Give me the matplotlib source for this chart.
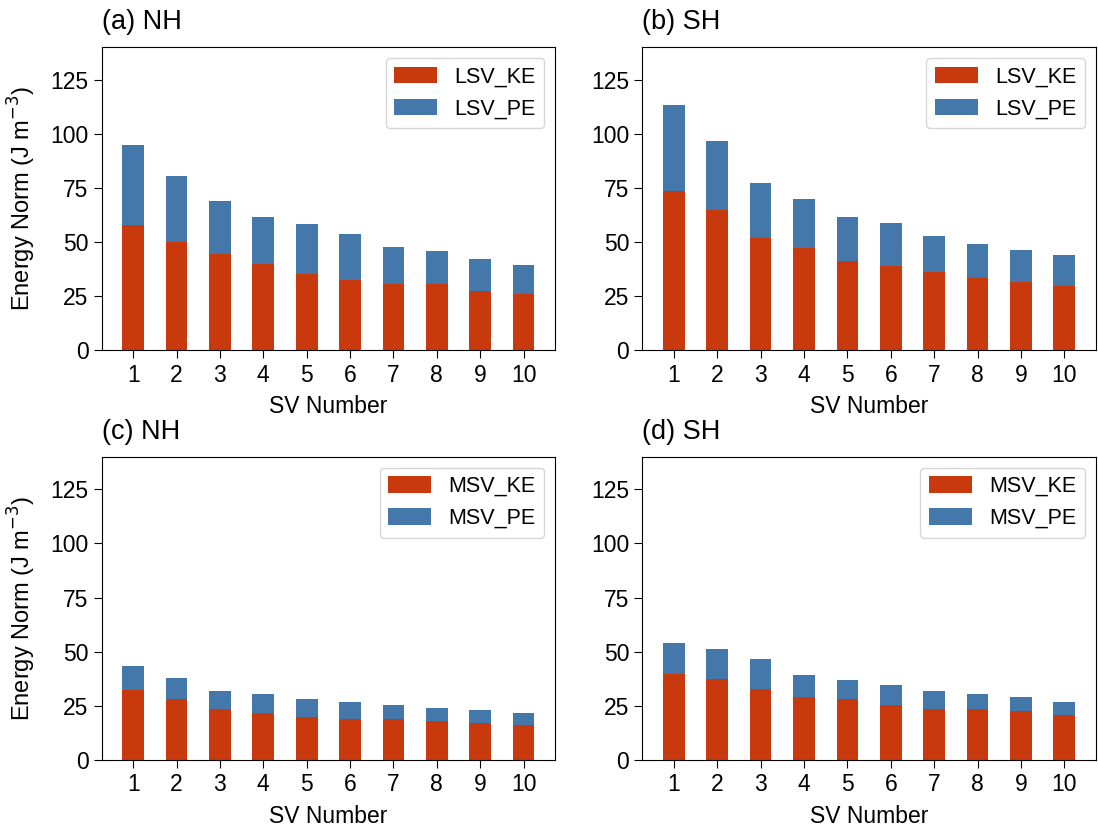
import matplotlib
matplotlib.use("Agg")
import matplotlib.pyplot as plt
import numpy as np

plt.rcParams['font.family'] = ['Liberation Sans', 'DejaVu Sans']

KE_COLOR = '#C83A0D'
PE_COLOR = '#4477AA'

sv_numbers = list(range(1, 11))

# Total energy (KE + PE) and kinetic part for each singular vector
lsv_nh_total = [94.6, 80.7, 69.1, 61.7, 58.5, 53.9, 47.8, 46.0, 42.3, 39.5]
lsv_nh_ke = [58.0, 50.2, 44.3, 40.0, 35.3, 32.6, 30.7, 30.7, 27.6, 25.8]

lsv_sh_total = [113.3, 96.6, 77.1, 69.7, 61.8, 58.6, 53.0, 49.3, 46.5, 44.2]
lsv_sh_ke = [73.4, 64.8, 52.1, 47.1, 41.4, 39.1, 36.0, 33.5, 31.7, 29.8]

msv_nh_total = [43.3, 37.7, 31.7, 30.3, 28.0, 26.6, 25.6, 24.2, 23.3, 21.9]
msv_nh_ke = [32.1, 28.1, 23.4, 21.6, 20.0, 18.8, 18.8, 17.9, 17.2, 16.0]

msv_sh_total = [54.0, 51.2, 46.6, 39.1, 36.8, 34.5, 31.7, 30.7, 29.3, 27.0]
msv_sh_ke = [39.6, 37.4, 32.8, 29.3, 28.1, 25.6, 23.4, 23.4, 22.5, 20.7]

panels = [
    ("(a) NH", lsv_nh_ke, lsv_nh_total, "LSV"),
    ("(b) SH", lsv_sh_ke, lsv_sh_total, "LSV"),
    ("(c) NH", msv_nh_ke, msv_nh_total, "MSV"),
    ("(d) SH", msv_sh_ke, msv_sh_total, "MSV"),
]

fig, axes = plt.subplots(2, 2, figsize=(10.98, 8.27), dpi=100)
fig.subplots_adjust(left=0.0926, right=0.998, bottom=0.081, top=0.943,
                    wspace=0.1925, hspace=0.351)

x = np.arange(len(sv_numbers))
for ax, (title, ke, total, prefix) in zip(axes.flat, panels):
    ke = np.array(ke)
    pe = np.array(total) - ke
    ax.bar(x, ke, width=0.5, color=KE_COLOR, label=f"{prefix}_KE")
    ax.bar(x, pe, width=0.5, bottom=ke, color=PE_COLOR, label=f"{prefix}_PE")
    ax.set_ylim(0, 140)
    ax.set_yticks([0, 25, 50, 75, 100, 125])
    ax.set_xticks(x)
    ax.set_xticklabels(sv_numbers)
    ax.tick_params(labelsize=16.5, length=6)
    ax.set_xlabel("SV Number", fontsize=16.5, labelpad=6)
    ax.set_title(title, loc='left', fontsize=19.5, pad=13)
    ax.legend(loc='upper right', fontsize=15.5, handlelength=2.0, handleheight=0.8)

for ax in axes[:, 0]:
    ax.set_ylabel("Energy Norm (J m$^{-3}$)", fontsize=17, labelpad=9)

fig.savefig("out.png", dpi=100)
